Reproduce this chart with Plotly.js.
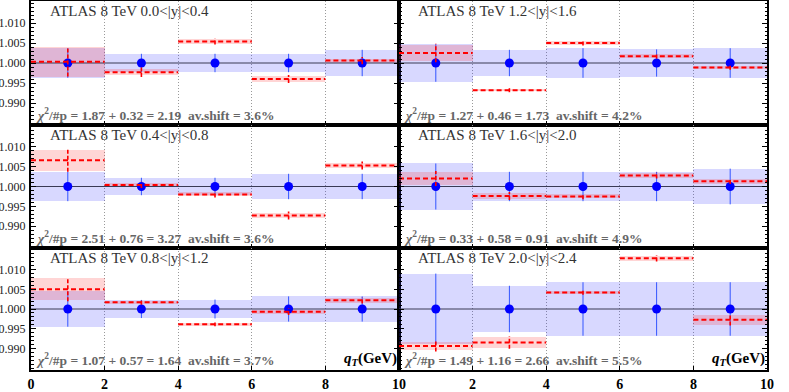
<!DOCTYPE html>
<html><head><meta charset="utf-8">
<script src="https://cdn.plot.ly/plotly-3.0.1.min.js"></script>
<style>html,body{margin:0;padding:0;background:#fff}#chart{width:789px;height:392px}</style>
</head><body><div id="chart"></div>
<script>
// ---- data ----
const binEdges = [0, 2, 4, 6, 8, 10];
const dataValue = [1, 1, 1, 1, 1];

const panelLabels = [
  "ATLAS 8 TeV 0.0<|y|<0.4", "ATLAS 8 TeV 1.2<|y|<1.6",
  "ATLAS 8 TeV 0.4<|y|<0.8", "ATLAS 8 TeV 1.6<|y|<2.0",
  "ATLAS 8 TeV 0.8<|y|<1.2", "ATLAS 8 TeV 2.0<|y|<2.4"
];
const chi2Labels = [
  "1.87 + 0.32 = 2.19", "1.27 + 0.46 = 1.73",
  "2.51 + 0.76 = 3.27", "0.33 + 0.58 = 0.91",
  "1.07 + 0.57 = 1.64", "1.49 + 1.16 = 2.66"
];
const shiftLabels = ["3.6%", "4.2%", "3.6%", "4.9%", "3.7%", "5.5%"];
const xTickLabelsLeft = [0, 2, 4, 6, 8, 10];
const xTickLabelsRight = [2, 4, 6, 8, 10];
const yTickValues = [0.990, 0.995, 1.000, 1.005, 1.010];

// 0.0<|y|<0.4
const dataErr_y00 = [0.0037, 0.0023, 0.0023, 0.0023, 0.0033];
const theory_y00 = [1.0003, 0.9977, 1.0054, 0.9960, 1.0006];
const theoryBand_y00 = [0.0037, 0.0007, 0.0006, 0.0008, 0.0005];
const theoryErr_y00 = [0.0037, 0.0012, 0.0008, 0.0010, 0.0009];
// 1.2<|y|<1.6
const dataErr_y12 = [0.0047, 0.0033, 0.0037, 0.0034, 0.0037];
const theory_y12 = [1.0025, 0.9932, 1.0050, 1.0017, 0.9989];
const theoryBand_y12 = [0.0020, 0.0002, 0.0005, 0.0005, 0.0004];
const theoryErr_y12 = [0.0023, 0.0005, 0.0006, 0.0006, 0.0006];
// 0.4<|y|<0.8
const dataErr_y04 = [0.0037, 0.0022, 0.0022, 0.0032, 0.0032];
const theory_y04 = [1.0066, 1.0004, 0.9980, 0.9927, 1.0053];
const theoryBand_y04 = [0.0027, 0.0004, 0.0005, 0.0006, 0.0007];
const theoryErr_y04 = [0.0029, 0.0008, 0.0008, 0.0010, 0.0010];
// 1.6<|y|<2.0
const dataErr_y16 = [0.0058, 0.0037, 0.0037, 0.0037, 0.0045];
const theory_y16 = [1.0020, 0.9976, 0.9975, 1.0028, 1.0013];
const theoryBand_y16 = [0.0017, 0.0008, 0.0005, 0.0006, 0.0006];
const theoryErr_y16 = [0.0019, 0.0010, 0.0007, 0.0008, 0.0007];
// 0.8<|y|<1.2
const dataErr_y08 = [0.0045, 0.0023, 0.0024, 0.0032, 0.0032];
const theory_y08 = [1.0050, 1.0017, 0.9961, 0.9993, 1.0022];
const theoryBand_y08 = [0.0028, 0.0004, 0.0004, 0.0005, 0.0006];
const theoryErr_y08 = [0.0030, 0.0006, 0.0005, 0.0008, 0.0008];
// 2.0<|y|<2.4
const dataErr_y20 = [0.0090, 0.0059, 0.0068, 0.0068, 0.0068];
const theory_y20 = [0.9906, 0.9915, 1.0042, 1.0129, 0.9973];
const theoryBand_y20 = [0.0009, 0.0014, 0.0005, 0.0006, 0.0013];
const theoryErr_y20 = [0.0014, 0.0016, 0.0006, 0.0008, 0.0015];

const panels = [
  [dataErr_y00, theory_y00, theoryBand_y00, theoryErr_y00],
  [dataErr_y12, theory_y12, theoryBand_y12, theoryErr_y12],
  [dataErr_y04, theory_y04, theoryBand_y04, theoryErr_y04],
  [dataErr_y16, theory_y16, theoryBand_y16, theoryErr_y16],
  [dataErr_y08, theory_y08, theoryBand_y08, theoryErr_y08],
  [dataErr_y20, theory_y20, theoryBand_y20, theoryErr_y20]
];

// ---- build ----
const W = 789, H = 392;
const colPx = [[31, 399], [399, 767]];
const rowPx = [[1, 125], [125, 248], [248, 370]];
const yRange = [0.9845, 1.0155];
const SERIF = "Liberation Serif, DejaVu Serif, serif";

const centers = binEdges.slice(0, -1).map((e, i) => (e + binEdges[i + 1]) / 2);
const widths = binEdges.slice(0, -1).map((e, i) => binEdges[i + 1] - e);

const traces = [];
const layout = {
  width: W, height: H, margin: {l: 0, r: 0, t: 0, b: 0},
  paper_bgcolor: "#fff", plot_bgcolor: "#fff",
  showlegend: false, barmode: "overlay", bargap: 0,
  font: {family: SERIF, color: "#222"},
  annotations: []
};

panels.forEach((p, i) => {
  const [dErr, th, band, tErr] = p;
  const n = i + 1, row = Math.floor(i / 2), col = i % 2;
  const xa = "x" + (n === 1 ? "" : n), ya = "y" + (n === 1 ? "" : n);
  const common = {xaxis: xa, yaxis: ya, hoverinfo: "skip"};

  traces.push(Object.assign({
    type: "bar", x: centers, width: widths,
    base: dataValue.map((v, k) => v - dErr[k]), y: dErr.map(e => 2 * e),
    marker: {color: "rgba(40,40,255,0.18)", line: {width: 0}}
  }, common));
  traces.push(Object.assign({
    type: "bar", x: centers, width: widths,
    base: th.map((v, k) => v - band[k]), y: band.map(e => 2 * e),
    marker: {color: "rgba(255,20,20,0.18)", line: {width: 0}}
  }, common));
  traces.push(Object.assign({
    type: "scatter", mode: "lines",
    x: [binEdges[0], binEdges[binEdges.length - 1]], y: [dataValue[0], dataValue[0]],
    line: {color: "#3a3a55", width: 1}
  }, common));
  traces.push(Object.assign({
    type: "scatter", mode: "markers", x: centers, y: dataValue,
    marker: {color: "#0000ff", size: 9},
    error_y: {type: "data", array: dErr, visible: true, color: "#3355ff", thickness: 1, width: 0}
  }, common));
  const hx = [], hy = [], vx = [], vy = [];
  th.forEach((v, k) => {
    hx.push(binEdges[k], binEdges[k + 1], null); hy.push(v, v, null);
    vx.push(centers[k], centers[k], null); vy.push(v - tErr[k], v + tErr[k], null);
  });
  traces.push(Object.assign({
    type: "scatter", mode: "lines", x: hx, y: hy,
    line: {color: "#ff0000", width: 2, dash: "5px,3px"}
  }, common));
  traces.push(Object.assign({
    type: "scatter", mode: "lines", x: vx, y: vy,
    line: {color: "#ff0000", width: 1.6, dash: "4px,2px"}
  }, common));

  const xd = colPx[col].map(v => v / W);
  const yd = [1 - rowPx[row][1] / H, 1 - rowPx[row][0] / H];
  const bottom = row === 2;
  layout["xaxis" + (n === 1 ? "" : n)] = {
    domain: xd, anchor: ya, range: [binEdges[0], binEdges[binEdges.length - 1]],
    tickmode: "array", tickvals: col === 0 ? xTickLabelsLeft : xTickLabelsRight,
    showticklabels: bottom, ticks: "inside", ticklen: 4, tickcolor: "#000",
    tickfont: {family: SERIF, size: 14, color: "#000", weight: "bold"},
    showgrid: true, gridcolor: "#999", griddash: "1px,2px", gridwidth: 1,
    zeroline: false, showline: true, linecolor: "#000", linewidth: 2, mirror: true,
    fixedrange: true
  };
  layout["yaxis" + (n === 1 ? "" : n)] = {
    domain: yd, anchor: xa, range: yRange,
    tickmode: "array", tickvals: yTickValues, ticktext: yTickValues.map(v => v.toFixed(3)),
    showticklabels: col === 0, ticks: "inside", ticklen: 5, tickcolor: "#000",
    ticklabelstandoff: 1,
    tickfont: {family: SERIF, size: 12, color: "#222"},
    minor: {dtick: 0.001, ticks: "inside", ticklen: 2.5, tickcolor: "#000", showgrid: false},
    showgrid: false, zeroline: false, showline: true, linecolor: "#000", linewidth: 2,
    mirror: "allticks", fixedrange: true
  };

  layout.annotations.push({
    xref: xa + " domain", yref: ya + " domain", x: 0.045, y: 1.0, xanchor: "left", yanchor: "top",
    text: panelLabels[i], showarrow: false, font: {family: SERIF, size: 15, color: "#333"}
  });
  layout.annotations.push({
    xref: xa + " domain", yref: ya + " domain", x: 0.008, y: 0.0, xanchor: "left", yanchor: "bottom",
    text: "<b><i>χ</i><sup>2</sup>/#p = " + chi2Labels[i] + "  av.shift = " + shiftLabels[i] + "</b>",
    showarrow: false, font: {family: SERIF, size: 13.5, color: "#666"}
  });
  if (bottom) {
    layout.annotations.push({
      xref: xa + " domain", yref: ya + " domain", x: 1.0, y: 0.0, xanchor: "right", yanchor: "bottom",
      text: "<b><i>q</i><sub><i>T</i></sub>(GeV)</b>",
      showarrow: false, font: {family: SERIF, size: 15, color: "#000"}
    });
  }
});

Plotly.newPlot("chart", traces, layout, {staticPlot: true, displayModeBar: false});
</script></body></html>
